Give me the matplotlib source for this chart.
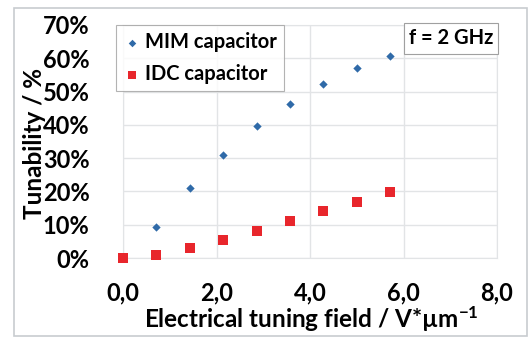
import matplotlib
matplotlib.use("Agg")
import matplotlib.pyplot as plt
from matplotlib.patches import Rectangle
from matplotlib.ticker import FuncFormatter

# Data
field = [0.0, 0.714, 1.429, 2.143, 2.857, 3.571, 4.286, 5.0, 5.714]
mim = [0.0, 0.092, 0.209, 0.309, 0.397, 0.462, 0.524, 0.570, 0.607]
idc = [0.0, 0.010, 0.031, 0.054, 0.082, 0.110, 0.140, 0.169, 0.197]
x_ticks = [0, 2, 4, 6, 8]
y_ticks = [0, 0.1, 0.2, 0.3, 0.4, 0.5, 0.6, 0.7]

plt.rcParams['font.family'] = ['Lato', 'DejaVu Sans']
plt.rcParams['font.weight'] = 'bold'
plt.rcParams['mathtext.default'] = 'regular'

W, H = 532, 338
fig = plt.figure(figsize=(W/100, H/100), dpi=100)
fig.patch.set_facecolor('white')

# outer frame
fig.add_artist(Rectangle((14/W, 2/H), (527-14)/W, (328)/H, transform=fig.transFigure,
                         fill=False, edgecolor='#c8ccd0', linewidth=1.2))

left, right, top, bottom = 123, 497, 25, 258
ax = fig.add_axes([left/W, 1-bottom/H, (right-left)/W, (bottom-top)/H])
ax.set_xlim(0, 8)
ax.set_ylim(0, 0.7)
ax.set_xticks(x_ticks)
ax.set_yticks(y_ticks)
ax.xaxis.set_major_formatter(FuncFormatter(lambda v, p: f"{v:.1f}".replace('.', ',')))
ax.yaxis.set_major_formatter(FuncFormatter(lambda v, p: f"{v*100:.0f}%"))
ax.grid(True, color='#e2e4e6', linewidth=1.0)
ax.set_axisbelow(True)
for s in ax.spines.values():
    s.set_color('#e2e4e6')
ax.tick_params(length=0, labelsize=17)
ax.tick_params(axis='y', pad=24)
ax.tick_params(axis='x', pad=17)

ax.scatter(field, idc, marker='s', s=42, color='#e8262c', label='IDC capacitor', zorder=3,
           linewidths=0, clip_on=False)
ax.scatter(field[1:], mim[1:], marker='D', s=18, color='#2f6aa8', label='MIM capacitor', zorder=3,
           linewidths=0, clip_on=False)

handles, labels = ax.get_legend_handles_labels()
leg = ax.legend(handles[::-1], labels[::-1], loc='upper left', bbox_to_anchor=(-0.02, 1.0),
                prop={'weight': 'bold', 'size': 14.5}, frameon=True, fancybox=False,
                edgecolor='#a0a0a0', handletextpad=0.2, handlelength=0.9,
                borderpad=0.35, labelspacing=0.6, markerscale=0.9, borderaxespad=0)
leg.get_frame().set_linewidth(0.8)

ax.text(0.99, 0.985, 'f = 2 GHz', transform=ax.transAxes, ha='right', va='top',
        fontsize=14.5, fontweight='bold',
        bbox=dict(boxstyle='square,pad=0.25', facecolor='white', edgecolor='#a0a0a0', linewidth=0.8))

fig.text(311/W, 1-319/H, 'Electrical tuning field / V*µm$^{-1}$', fontsize=17.5, fontweight='bold',
         ha='center', va='center')
fig.text(35/W, 1-143/H, 'Tunability / %', fontsize=17.5, fontweight='bold',
         ha='center', va='center', rotation=90)

fig.savefig('out.png', dpi=100)
